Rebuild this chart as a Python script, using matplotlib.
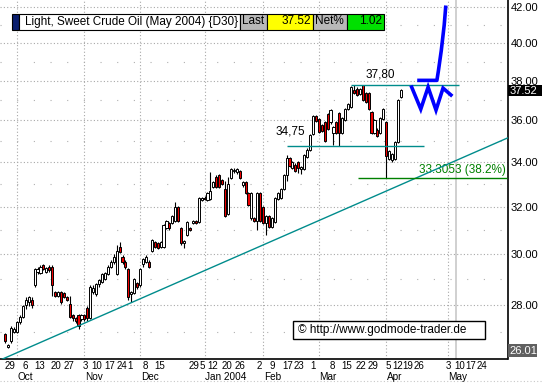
import matplotlib
matplotlib.use('Agg')
import matplotlib.pyplot as plt
import matplotlib.transforms as mtransforms
from matplotlib.patches import Rectangle
import numpy as np
import pandas as pd

plt.rcParams['font.family'] = ['Liberation Sans', 'DejaVu Sans']

W, H = 542, 383

# trading days (NYMEX holidays removed)
holidays = ['2003-11-27', '2003-12-25', '2004-01-01', '2004-01-19', '2004-02-16', '2004-04-09']
days = pd.bdate_range('2003-09-25', '2004-06-04', freq='C', holidays=holidays)

opens = [
    26.90, 26.45, 26.65, 27.00, 27.00, 27.34, 27.53, 27.98, 28.10, 28.20,
    28.75, 29.30, 29.25, 29.55, 29.30, 29.50, 29.50, 28.50, 28.35, 28.50,
    28.45, 28.30, 28.05, 27.60, 27.50, 27.60, 27.45, 27.60, 27.90, 27.50,
    28.50, 28.40, 28.80, 28.90, 29.00, 29.20, 29.50, 29.70, 29.20, 30.30,
    29.90, 29.70, 29.40, 28.40, 28.45, 28.85, 28.75, 29.60, 29.70, 29.70,
    30.15, 30.50, 30.45, 30.30, 30.30, 31.10, 31.30, 31.30, 31.40, 32.00,
    31.10, 30.45, 30.80, 31.10, 31.30, 31.40, 31.35, 32.30, 32.40, 32.30,
    32.35, 32.90, 33.35, 33.40, 33.20, 32.80, 31.70, 33.30, 33.60, 33.55,
    33.60, 32.95, 33.10, 32.60, 31.50, 31.50, 31.40, 32.60, 32.00, 31.30,
    31.60, 31.15, 31.35, 32.35, 32.40, 32.80, 33.40, 34.20, 33.75, 33.90,
    34.00, 33.70, 33.70, 34.25, 34.60, 35.35, 36.20, 36.05, 35.80, 35.90,
    36.30, 35.90, 35.40, 35.90, 36.35, 35.40, 36.00, 36.55, 36.66, 37.50,
    37.60, 37.30, 37.80, 37.35, 37.35, 36.40, 35.40, 35.55, 35.40, 36.05,
    35.90, 34.15, 34.10, 34.15, 34.95, 37.15]
highs = [
    26.95, 26.56, 27.20, 27.18, 27.40, 27.62, 28.00, 28.30, 28.35, 28.30,
    29.45, 29.50, 29.55, 29.62, 29.50, 29.55, 29.55, 28.55, 28.55, 28.55,
    28.50, 28.35, 28.35, 27.65, 27.55, 27.65, 27.65, 27.65, 27.95, 28.75,
    28.75, 28.85, 29.00, 29.25, 29.30, 29.55, 29.75, 30.00, 30.40, 30.50,
    29.95, 29.75, 29.45, 28.55, 29.05, 28.90, 29.45, 29.85, 29.95, 29.75,
    30.65, 30.55, 30.50, 30.55, 31.25, 31.45, 31.35, 31.65, 32.20, 32.05,
    31.15, 30.60, 31.40, 31.15, 31.45, 31.45, 32.45, 32.45, 32.50, 32.65,
    33.55, 33.15, 33.40, 33.45, 33.25, 33.17, 33.35, 33.75, 33.75, 33.75,
    33.65, 33.15, 33.15, 32.65, 32.65, 31.55, 32.65, 32.65, 32.05, 31.65,
    31.65, 31.55, 32.45, 32.65, 32.85, 33.45, 34.35, 34.25, 34.05, 33.95,
    34.05, 33.85, 34.40, 34.65, 35.35, 36.25, 36.25, 36.10, 35.85, 35.95,
    36.35, 36.55, 35.75, 35.95, 36.40, 36.15, 36.60, 36.85, 37.75, 37.80,
    37.70, 37.65, 37.80, 37.40, 37.40, 36.45, 36.05, 35.65, 36.15, 36.60,
    35.95, 34.60, 34.45, 35.00, 37.05, 37.60]
lows = [
    26.60, 26.40, 26.60, 26.95, 26.95, 27.28, 27.50, 27.85, 27.95, 27.90,
    28.70, 29.20, 29.20, 29.35, 29.25, 29.30, 28.35, 28.30, 28.30, 28.05,
    28.25, 28.15, 27.50, 27.40, 27.30, 27.10, 27.40, 27.40, 27.40, 27.45,
    28.40, 28.35, 28.70, 28.85, 28.95, 29.15, 29.45, 29.60, 29.15, 30.05,
    29.60, 29.40, 28.20, 28.10, 28.40, 28.60, 28.70, 29.50, 29.65, 29.45,
    30.10, 30.25, 30.20, 30.25, 30.25, 31.05, 31.00, 31.25, 31.35, 31.35,
    30.40, 30.25, 30.75, 30.95, 31.25, 31.25, 31.30, 32.25, 32.30, 32.25,
    32.30, 32.85, 32.85, 32.85, 32.95, 31.55, 31.65, 33.25, 33.50, 33.45,
    33.25, 32.90, 32.55, 32.05, 31.45, 31.35, 31.00, 31.35, 31.25, 30.80,
    31.10, 31.10, 31.30, 32.30, 32.35, 32.75, 33.15, 33.80, 33.70, 33.55,
    33.50, 33.45, 33.65, 34.20, 34.55, 35.30, 35.90, 35.40, 35.45, 34.95,
    35.55, 35.85, 34.80, 35.35, 34.75, 35.35, 35.95, 36.50, 36.60, 37.30,
    37.20, 37.25, 36.95, 36.85, 36.50, 35.35, 35.35, 35.20, 35.35, 36.00,
    33.30, 34.10, 34.00, 34.10, 34.90, 37.10]
closes = [
    26.65, 26.52, 27.15, 27.10, 27.34, 27.56, 27.94, 28.20, 28.30, 28.00,
    29.40, 29.40, 29.50, 29.40, 29.45, 29.35, 28.75, 28.35, 28.50, 28.10,
    28.30, 28.20, 27.56, 27.50, 27.40, 27.22, 27.60, 27.45, 27.50, 28.70,
    28.65, 28.80, 28.95, 29.20, 29.25, 29.50, 29.70, 29.90, 30.15, 30.10,
    29.70, 29.50, 28.30, 28.50, 29.00, 28.70, 29.40, 29.80, 29.90, 29.50,
    30.60, 30.30, 30.25, 30.50, 31.20, 31.40, 31.10, 31.60, 32.00, 31.40,
    30.45, 30.56, 31.35, 31.00, 31.40, 31.30, 32.40, 32.40, 32.35, 32.60,
    32.70, 33.10, 32.90, 32.90, 33.00, 31.60, 33.00, 33.70, 33.65, 33.70,
    33.30, 33.10, 32.60, 32.10, 32.60, 31.40, 32.60, 31.40, 31.30, 31.60,
    31.15, 31.50, 32.40, 32.60, 32.80, 33.40, 34.20, 33.85, 34.00, 33.60,
    33.75, 33.80, 34.35, 34.60, 35.30, 36.20, 35.95, 35.45, 35.50, 35.00,
    35.60, 36.50, 35.70, 35.40, 35.40, 36.10, 36.55, 36.80, 37.67, 37.35,
    37.25, 37.60, 37.00, 36.90, 36.55, 35.40, 36.00, 35.25, 36.10, 36.55,
    34.30, 34.55, 34.40, 34.95, 37.00, 37.52]

# analysis lines
resist_hi, resist_lo, fibo = 37.80, 34.75, 33.3053
trend_x = [-1.81, 171.4]
trend_y = [25.97, 35.15]
zig_x = [138.7, 141.8, 144.3, 147.0, 149.4, 152.1]
zig_y = [37.67, 36.56, 37.67, 36.51, 37.62, 37.27]
up_x = [141.2, 147.3, 147.8, 148.8, 149.8, 150.3]
up_y = [38.02, 38.02, 38.5, 39.6, 41.0, 42.0]

day_labels = ['29', '6', '13', '20', '27', '3', '10', '17', '24', '1', '8', '15', '29', '5',
              '12', '20', '26', '2', '9', '17', '23', '1', '8', '15', '22', '29', '5', '12',
              '19', '26', '3', '10', '17', '24']
day_pos = [1.6, 6.7, 11.8, 17.3, 21.7, 27.2, 31.3, 35.7, 39.8, 42.6, 47.7, 52.8, 64.4, 67.1,
           70.9, 75.7, 80.1, 86.6, 91.0, 96.5, 100.2, 105.0, 111.5, 116.6, 121.4, 125.5, 130.6, 134.0,
           137.4, 141.2, 151.1, 155.2, 158.9, 162.7]
month_names = ['Oct', 'Nov', 'Dec', 'Jan 2004', 'Feb', 'Mar', 'Apr', 'May']

n = len(closes)
xi = np.arange(n)

fig = plt.figure(figsize=(W / 100, H / 100), dpi=100)
ax = fig.add_axes([0, 1 - 359 / H, 507.5 / W, 359 / H])
ax.set_yscale('log')
ax.set_ylim(26.01, 42.42)
ax.set_xlim(-1.81, 171.4)

# grid
maj = [28, 30, 32, 34, 36, 38, 40, 42]
mino = [27, 29, 31, 33, 35, 37, 39, 41]
for v in maj:
    ax.axhline(v, color='#a8a8a8', lw=0.8, ls=(0, (1, 2)), zorder=0)
for v in mino:
    ax.axhline(v, color='#b0b0b0', lw=0.8, ls=(0, (1, 14)), zorder=0)
month_idx = [i for i in range(1, len(days)) if days[i].month != days[i - 1].month]
for m in month_idx:
    ax.axvline(m, color='#a8a8a8', lw=0.8, ls=(0, (1, 2)), zorder=0)
ax.axvline(153.8, color='#c8c8c8', lw=1.2, zorder=0)

# candles
up = [c >= o for o, c in zip(opens, closes)]
ax.vlines(xi, lows, highs, color='black', lw=0.8, zorder=2)
body_lo = [min(o, c) for o, c in zip(opens, closes)]
body_h = [max(abs(c - o), 0.03) for o, c in zip(opens, closes)]
ax.bar(xi, body_h, bottom=body_lo, width=0.72,
       color=['white' if u else '#ee0000' for u in up],
       edgecolor='black', linewidth=0.7, zorder=3)

# trend + levels
teal = '#008c8c'
ax.plot(trend_x, trend_y, color=teal, lw=1.0, zorder=4)
ax.hlines(resist_hi, 118.0, 155.0, color=teal, lw=1.0, zorder=4)
ax.hlines(resist_lo, 96.0, 143.0, color=teal, lw=1.0, zorder=4)
ax.hlines(fibo, 120.3, 171.4, color='#008000', lw=1.0, zorder=4)
ax.text(127.9, 38.35, '37,80', fontsize=8.5, ha='center', va='center')
ax.text(97.3, 35.45, '34,75', fontsize=8.5, ha='center', va='center')
ax.text(170.8, fibo * 1.002, '33.3053 (38.2%)', fontsize=8.5, color='#008000',
        ha='right', va='bottom')

# projection
ax.plot(zig_x, zig_y, color='#0000ff', lw=2.6, zorder=5, solid_joinstyle='miter')
ax.plot(up_x, up_y, color='#0000ff', lw=2.6, zorder=5)

# axes styling
for s in ['left', 'top']:
    ax.spines[s].set_visible(False)
ax.spines['right'].set_linewidth(1.2)
ax.spines['bottom'].set_linewidth(1.2)
ax.yaxis.tick_right()
ax.set_yticks(maj)
ax.set_yticklabels(['%.2f' % v for v in maj])
ax.yaxis.set_minor_locator(matplotlib.ticker.NullLocator())
ax.tick_params(axis='y', length=0, pad=2, labelsize=8)
ax.set_xticks(day_pos)
ax.set_xticklabels(day_labels)
ax.tick_params(axis='x', length=0, pad=1.5, labelsize=7)
trans = mtransforms.blended_transform_factory(ax.transData, ax.transAxes)
for m, name in zip(month_idx, month_names):
    ax.text(m + 0.2, -0.05, name, transform=trans, fontsize=7.2, ha='left', va='center')


def px(x, y):
    return x / W, 1 - y / H


def box(x0, y0, x1, y1, fc, ec='black', lw=0.8):
    fig.patches.append(Rectangle(px(x0, y1), (x1 - x0) / W, (y1 - y0) / H, transform=fig.transFigure,
                                 facecolor=fc, edgecolor=ec, lw=lw, zorder=10))


# price boxes on right axis
box(508, 85, 542, 96, 'black', 'black', 0)
fig.text(*px(510, 90.5), '%.2f' % closes[-1], color='white', fontsize=8, va='center', zorder=11)
box(507.5, 344, 537, 357, '#606060', '#606060', 0)
fig.text(*px(509, 350.5), '26.01', color='white', fontsize=8, va='center', zorder=11)

# header
box(12, 13.5, 19, 29.5, '#0a1e6e')
box(19, 13.5, 240, 29.5, 'white')
box(240, 13.5, 267, 29.5, '#b8b8b8')
box(267, 13.5, 313, 29.5, '#ffff00')
box(313, 13.5, 347, 29.5, '#b8b8b8')
box(347, 13.5, 384, 29.5, '#00e000')
fig.text(*px(25, 21.5), 'Light, Sweet Crude Oil (May 2004) {D30}', fontsize=8.5, va='center', zorder=11)
fig.text(*px(242, 21.5), 'Last', fontsize=8.5, va='center', zorder=11)
fig.text(*px(311, 21.5), '%.2f' % closes[-1], fontsize=8.5, va='center', ha='right', zorder=11)
fig.text(*px(315, 21.5), 'Net%', fontsize=8.5, va='center', zorder=11)
fig.text(*px(382, 21.5), '1.02', fontsize=8.5, va='center', ha='right', zorder=11)

# copyright
box(293, 321, 485, 339, 'white', 'black', 1.0)
fig.text(*px(298, 330), '\u00a9 http://www.godmode-trader.de', fontsize=8.5, va='center', zorder=11)

fig.add_artist(plt.Line2D([0, 1], [1 - 380.5 / H] * 2, transform=fig.transFigure,
                          color='#c8c8c8', lw=0.8, ls=(0, (1, 2))))

fig.savefig('out.png', dpi=100)
